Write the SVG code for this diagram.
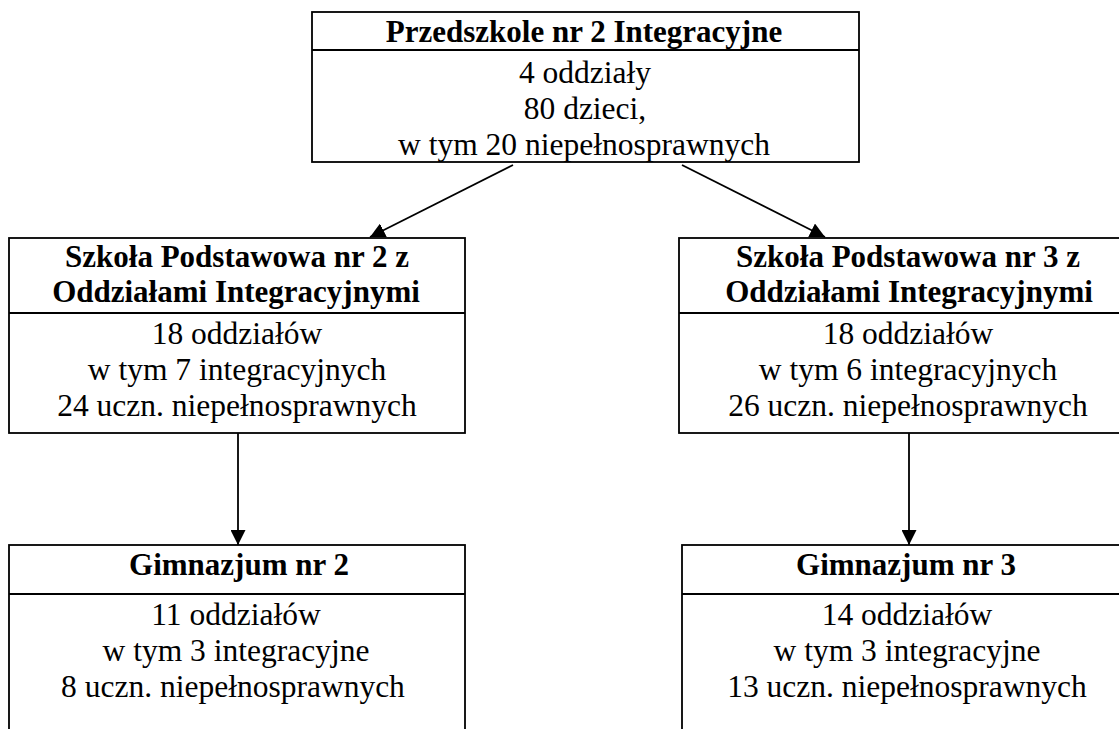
<svg xmlns="http://www.w3.org/2000/svg" width="1119" height="729" viewBox="0 0 1119 729">
<style>
.box{fill:#fff;stroke:#000;stroke-width:1.8}
.div{stroke:#000;stroke-width:1.8}
.t{font-family:'Liberation Serif','Times New Roman',serif;font-size:31.5px;fill:#000;text-anchor:middle}
.b{font-weight:bold;font-size:31px}
.c{stroke:#000;stroke-width:1.8;fill:none}
</style>
<defs>
<marker id="ah" viewBox="0 0 15 15" refX="15" refY="7.5" markerWidth="15" markerHeight="15" markerUnits="userSpaceOnUse" orient="auto">
<path d="M0,0 L15,7.5 L0,15 z" fill="#000"/>
</marker>
</defs>
<rect width="1119" height="729" fill="#fff"/>
<g id="przedszkole">
<rect class="box" x="312" y="12" width="547" height="150"/>
<line class="div" x1="312" y1="50" x2="859" y2="50"/>
<text class="t b" x="584" y="42">Przedszkole nr 2 Integracyjne</text>
<text class="t" x="585" y="83">4 oddziały</text>
<text class="t" x="585" y="119">80 dzieci,</text>
<text class="t" x="584" y="155">w tym 20 niepełnosprawnych</text>
</g>
<g id="sp2">
<rect class="box" x="9" y="238" width="456" height="195"/>
<line class="div" x1="9" y1="313" x2="465" y2="313"/>
<text class="t b" x="237" y="267">Szkoła Podstawowa nr 2 z</text>
<text class="t b" x="236" y="302">Oddziałami Integracyjnymi</text>
<text class="t" x="237" y="344">18 oddziałów</text>
<text class="t" x="237" y="380">w tym 7 integracyjnych</text>
<text class="t" x="237" y="416">24 uczn. niepełnosprawnych</text>
</g>
<g id="sp3">
<rect class="box" x="679" y="238" width="458" height="195"/>
<line class="div" x1="679" y1="313" x2="1137" y2="313"/>
<text class="t b" x="908" y="267">Szkoła Podstawowa nr 3 z</text>
<text class="t b" x="909" y="302">Oddziałami Integracyjnymi</text>
<text class="t" x="908" y="344">18 oddziałów</text>
<text class="t" x="908" y="380">w tym 6 integracyjnych</text>
<text class="t" x="908" y="416">26 uczn. niepełnosprawnych</text>
</g>
<g id="gim2">
<rect class="box" x="9" y="545" width="456" height="200"/>
<line class="div" x1="9" y1="594" x2="465" y2="594"/>
<text class="t b" x="239" y="575">Gimnazjum nr 2</text>
<text class="t" x="236" y="625">11 oddziałów</text>
<text class="t" x="236" y="661">w tym 3 integracyjne</text>
<text class="t" x="233" y="697">8 uczn. niepełnosprawnych</text>
</g>
<g id="gim3">
<rect class="box" x="682" y="545" width="458" height="200"/>
<line class="div" x1="682" y1="594" x2="1140" y2="594"/>
<text class="t b" x="906" y="575">Gimnazjum nr 3</text>
<text class="t" x="907" y="625">14 oddziałów</text>
<text class="t" x="907" y="661">w tym 3 integracyjne</text>
<text class="t" x="907" y="697">13 uczn. niepełnosprawnych</text>
</g>
<g id="connectors">
<line class="c" x1="513" y1="165" x2="370" y2="237" marker-end="url(#ah)"/>
<line class="c" x1="682" y1="165" x2="825" y2="237" marker-end="url(#ah)"/>
<line class="c" x1="238" y1="433" x2="238" y2="545" marker-end="url(#ah)"/>
<line class="c" x1="909" y1="433" x2="909" y2="545" marker-end="url(#ah)"/>
</g>
</svg>
